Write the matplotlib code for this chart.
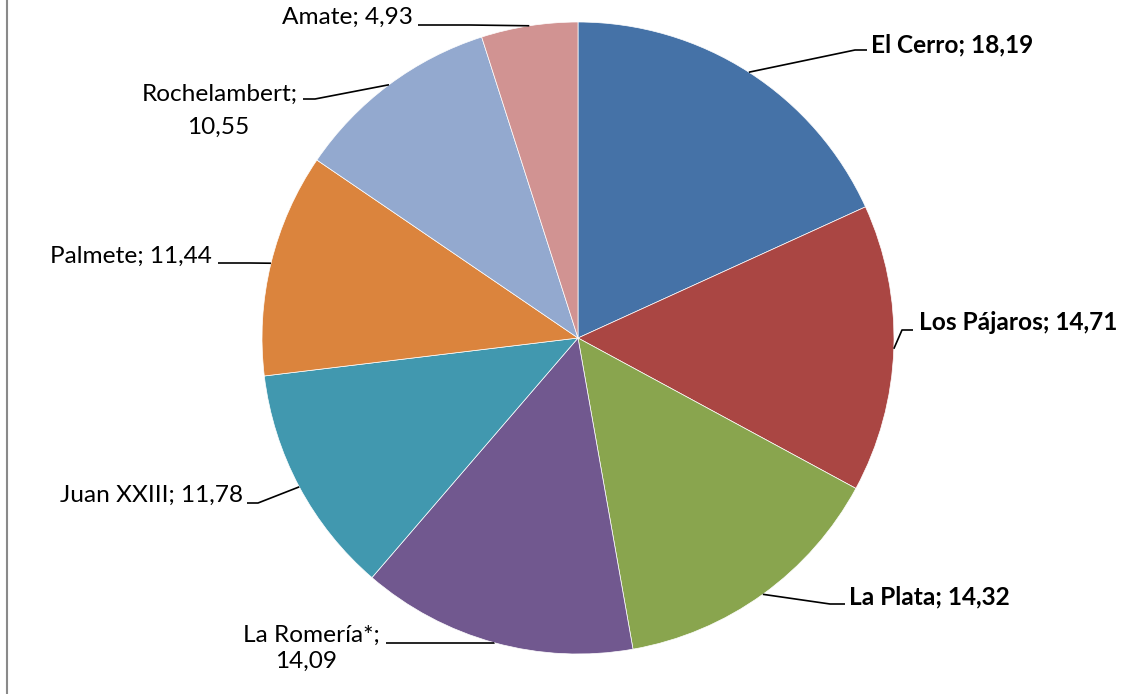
import numpy as np
import matplotlib.pyplot as plt

plt.rcParams['font.family'] = ['Lato', 'DejaVu Sans']

# data
barrios = ["El Cerro", "Los Pájaros", "La Plata", "La Romería*",
           "Juan XXIII", "Palmete", "Rochelambert", "Amate"]
valores = [18.19, 14.71, 14.32, 14.09, 11.78, 11.44, 10.55, 4.93]
colores = ["#4572A7", "#AA4643", "#89A54E", "#71588F",
           "#4198AF", "#DB843D", "#93A9CF", "#D19392"]
negrita = [True, True, True, False, False, False, False, False]

W, H = 1123, 694
cx, cy, r = 578, 338, 316

# label layout in pixels (top-left origin)
# (x, y, ha) per text line; elbow; end of the line at the label
etiquetas = {
    "El Cerro":     ([(871, 45, "left")], (855, 50), (867, 50)),
    "Los Pájaros":  ([(919, 322, "left")], (902, 330), (913, 330)),
    "La Plata":     ([(849, 597, "left")], (830, 604), (845, 604)),
    "La Romería*":  ([(380, 635, "right"), (306, 661, "center")], (494, 643), (386, 643)),
    "Juan XXIII":   ([(243, 495, "right")], (258, 503), (247, 503)),
    "Palmete":      ([(212, 256, "right")], (250, 263), (218, 263)),
    "Rochelambert": ([(298, 94, "right"), (218, 127, "center")], (315, 99), (303, 99)),
    "Amate":        ([(413, 17, "right")], (470, 25), (418, 25)),
}


def fy(y):
    return H - y


fig = plt.figure(figsize=(W / 100, H / 100), dpi=100)
ax = fig.add_axes([0, 0, 1, 1])
ax.pie(valores, colors=colores, startangle=90, counterclock=False,
       center=(cx, fy(cy)), radius=r,
       wedgeprops=dict(edgecolor="white", linewidth=0.5))
ax.set_xlim(0, W)
ax.set_ylim(0, H)
ax.axis("off")

# leader lines start at the middle of each slice edge
acum = np.cumsum([0] + valores[:-1])
for i, nombre in enumerate(barrios):
    medio = (acum[i] + valores[i] / 2) / sum(valores)
    ang = np.deg2rad(90 - medio * 360)
    x0 = cx + r * np.cos(ang)
    y0 = cy - r * np.sin(ang)
    lineas, codo, fin = etiquetas[nombre]
    ax.plot([x0, codo[0], fin[0]], [fy(y0), fy(codo[1]), fy(fin[1])],
            color="black", lw=1.2, solid_capstyle="butt")
    texto = f"{nombre}; {valores[i]:.2f}".replace(".", ",")
    if len(lineas) == 2:
        partes = texto.split(" ")
        partes = [" ".join(partes[:-1]), partes[-1]]
    else:
        partes = [texto]
    for (tx, ty, ha), t in zip(lineas, partes):
        ax.text(tx, fy(ty), t, ha=ha, va="center", fontsize=17.6,
                fontweight="bold" if negrita[i] else "normal", color="black")

# gray border on the left
ax.plot([6.5, 6.5], [0, H], color="#8a8a8a", lw=1.5)

fig.savefig("out.png", dpi=100)
